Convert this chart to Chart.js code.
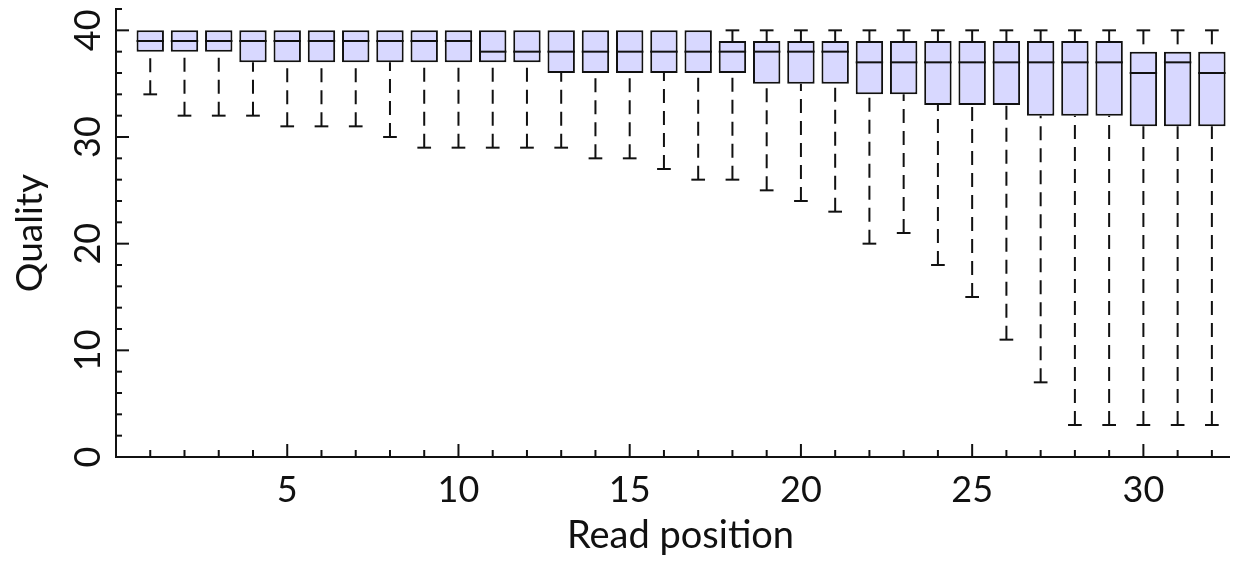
<!DOCTYPE html>
<html>
<head>
<meta charset="utf-8">
<title>Quality by read position</title>
<script src="https://cdn.jsdelivr.net/npm/chart.js@4.4.1/dist/chart.umd.min.js"></script>
<style>
  html, body { margin: 0; padding: 0; background: #fff; }
  #wrap { width: 1236px; height: 562px; }
</style>
</head>
<body>
<div id="wrap"><canvas id="chart" width="1236" height="562"></canvas></div>
<script>
// --- data ---
const positions   = [1, 2, 3, 4, 5, 6, 7, 8, 9, 10, 11, 12, 13, 14, 15, 16, 17, 18, 19, 20, 21, 22, 23, 24, 25, 26, 27, 28, 29, 30, 31, 32];
const whiskerHigh = [40, 40, 40, 40, 40, 40, 40, 40, 40, 40, 40, 40, 40, 40, 40, 40, 40, 40, 40, 40, 40, 40, 40, 40, 40, 40, 40, 40, 40, 40, 40, 40];
const boxTop      = [40, 40, 40, 40, 40, 40, 40, 40, 40, 40, 40, 40, 40, 40, 40, 40, 40, 39, 39, 39, 39, 39, 39, 39, 39, 39, 39, 39, 39, 38, 38, 38];
const medians     = [39, 39, 39, 39, 39, 39, 39, 39, 39, 39, 38, 38, 38, 38, 38, 38, 38, 38, 38, 38, 38, 37, 37, 37, 37, 37, 37, 37, 37, 36, 37, 36];
const boxBottom   = [38, 38, 38, 37, 37, 37, 37, 37, 37, 37, 37, 37, 36, 36, 36, 36, 36, 36, 35, 35, 35, 34, 34, 33, 33, 33, 32, 32, 32, 31, 31, 31];
const whiskerLow  = [34, 32, 32, 32, 31, 31, 31, 30, 29, 29, 29, 29, 29, 28, 28, 27, 26, 26, 25, 24, 23, 20, 21, 18, 15, 11, 7, 3, 3, 3, 3, 3];

const xTickLabels = [5, 10, 15, 20, 25, 30];
const yTickLabels = [0, 10, 20, 30, 40];
const xTitle = 'Read position';

const FONT = 'Lato';
const INK = '#111';

// vertical whisker with a cap, dashes start at the cap end
function drawWhisker(ctx, x, yEnd, yBox, capHalf) {
    ctx.setLineDash([14, 8]);
    ctx.beginPath();
    ctx.moveTo(x, yEnd);
    ctx.lineTo(x, yBox);
    ctx.stroke();
    ctx.setLineDash([]);
    ctx.beginPath();
    ctx.moveTo(x - capHalf, yEnd);
    ctx.lineTo(x + capHalf, yEnd);
    ctx.stroke();
}

const boxplotExtras = {
    id: 'boxplotExtras',
    afterDatasetsDraw(chart) {
        const ctx = chart.ctx;
        const xs = chart.scales.x;
        const ys = chart.scales.y;
        const meta = chart.getDatasetMeta(0);
        ctx.save();
        ctx.strokeStyle = INK;
        ctx.lineWidth = 2;
        positions.forEach((p, i) => {
            const x = xs.getPixelForValue(p);
            const half = meta.data[i].width / 2;
            const capHalf = Math.abs(xs.getPixelForValue(p + 0.2) - x);

            // median
            const ym = ys.getPixelForValue(medians[i]);
            ctx.setLineDash([]);
            ctx.beginPath();
            ctx.moveTo(x - half, ym);
            ctx.lineTo(x + half, ym);
            ctx.stroke();

            drawWhisker(ctx, x, ys.getPixelForValue(whiskerLow[i]), ys.getPixelForValue(boxBottom[i]), capHalf);
            if (whiskerHigh[i] > boxTop[i]) {
                drawWhisker(ctx, x, ys.getPixelForValue(whiskerHigh[i]), ys.getPixelForValue(boxTop[i]), capHalf);
            }
        });
        ctx.restore();
    },
    afterDraw(chart) {
        const ctx = chart.ctx;
        const xs = chart.scales.x;
        const ys = chart.scales.y;
        const area = chart.chartArea;
        ctx.save();
        ctx.strokeStyle = INK;
        ctx.lineWidth = 2;

        // inward tick marks on the y axis (every 2, longer every 10)
        for (let v = 0; v <= ys.max; v += 2) {
            const y = ys.getPixelForValue(v);
            const len = v % 10 === 0 ? 13 : 6;
            ctx.beginPath();
            ctx.moveTo(area.left, y);
            ctx.lineTo(area.left + len, y);
            ctx.stroke();
        }
        // inward tick marks on the x axis (every 1, longer every 5)
        for (let v = 1; v <= xs.max; v += 1) {
            const x = xs.getPixelForValue(v);
            const len = v % 5 === 0 ? 13 : 7;
            ctx.beginPath();
            ctx.moveTo(x, area.bottom);
            ctx.lineTo(x, area.bottom - len);
            ctx.stroke();
        }

        // y tick labels, turned to read upwards
        ctx.fillStyle = INK;
        ctx.font = '36px ' + FONT;
        ctx.textAlign = 'center';
        ctx.textBaseline = 'alphabetic';
        yTickLabels.forEach(v => {
            ctx.save();
            ctx.translate(area.left - 16, ys.getPixelForValue(v));
            ctx.rotate(-Math.PI / 2);
            ctx.fillText(String(v), 0, 0);
            ctx.restore();
        });

        // x axis title, sits a little right of the plot centre in the original
        ctx.font = '38px ' + FONT;
        ctx.fillText(xTitle, (area.left + area.right) / 2 + 8, area.bottom + 91);
        ctx.restore();
    }
};

new Chart(document.getElementById('chart'), {
    type: 'bar',
    data: {
        datasets: [{
            data: positions.map((p, i) => ({ x: p, y: [boxBottom[i], boxTop[i]] })),
            backgroundColor: '#d8d8ff',
            borderColor: INK,
            borderWidth: 2,
            borderSkipped: false,
            barPercentage: 0.8,
            categoryPercentage: 1
        }]
    },
    options: {
        responsive: false,
        animation: false,
        layout: { padding: { left: 0, right: 7, top: 9, bottom: 0 } },
        plugins: { legend: { display: false }, tooltip: { enabled: false } },
        scales: {
            x: {
                type: 'linear',
                min: 0,
                max: 32.5,
                offset: false,
                afterBuildTicks: s => { s.ticks = xTickLabels.map(v => ({ value: v })); },
                afterFit: s => { s.height = 105; s.paddingLeft = 0; s.paddingRight = 0; },
                grid: { display: false, drawTicks: false },
                border: { display: true, color: INK, width: 2 },
                ticks: { font: { family: FONT, size: 36 }, color: INK, padding: 12, maxRotation: 0 },
                title: { display: false }
            },
            y: {
                type: 'linear',
                min: 0,
                max: 42,
                afterBuildTicks: s => { s.ticks = yTickLabels.map(v => ({ value: v })); },
                afterFit: s => { s.width = 116; s.paddingTop = 0; s.paddingBottom = 0; },
                grid: { display: false, drawTicks: false },
                border: { display: true, color: INK, width: 2 },
                ticks: { display: false },
                title: { display: true, text: 'Quality', font: { family: FONT, size: 37 }, color: INK, padding: { top: 8, bottom: 0 } }
            }
        }
    },
    plugins: [boxplotExtras]
});
</script>
</body>
</html>
